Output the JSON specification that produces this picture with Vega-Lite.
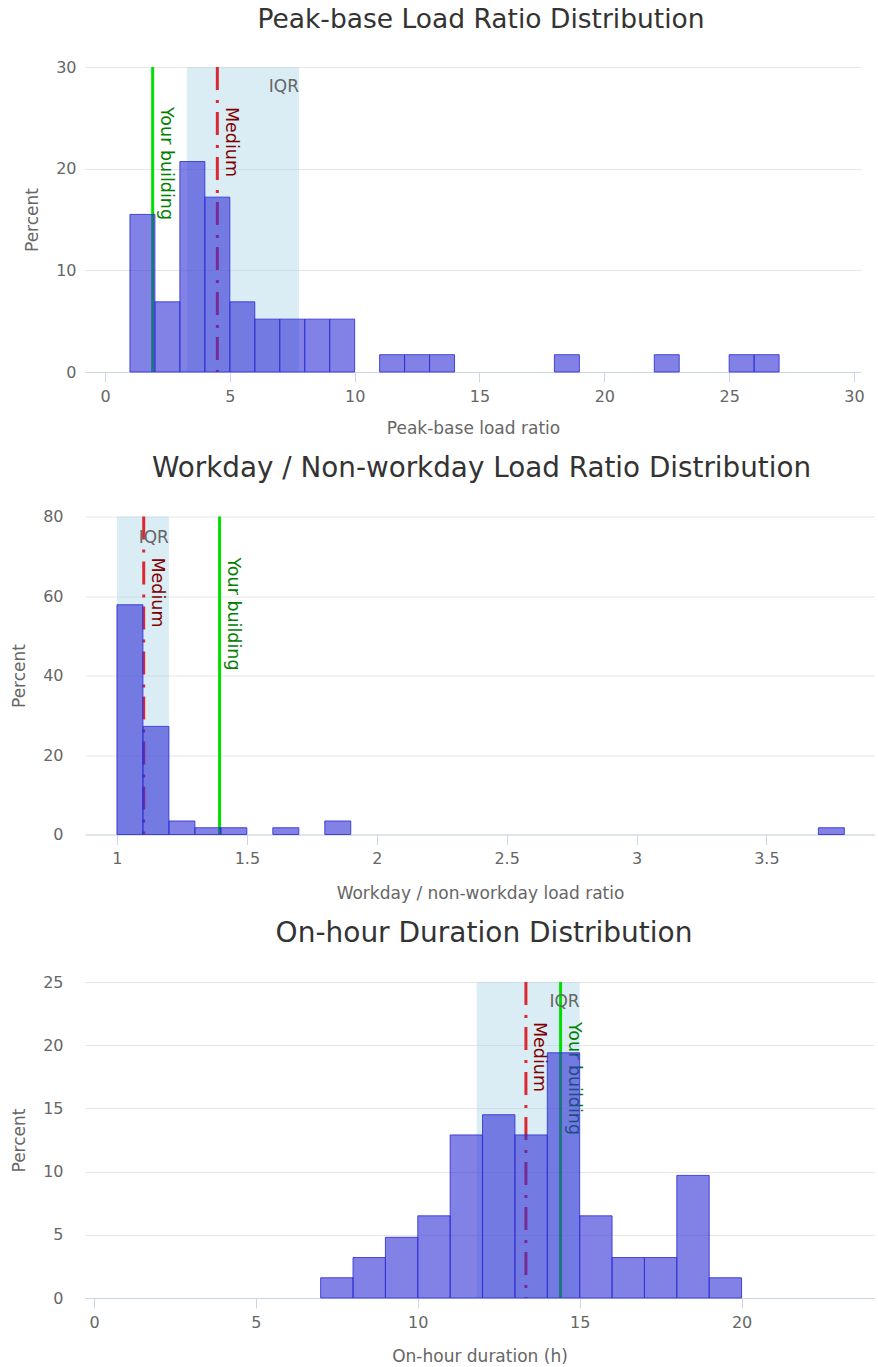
{
  "$schema": "https://vega.github.io/schema/vega-lite/v6.json",
  "padding": {"left": 10, "top": 6, "right": 0, "bottom": 0},
  "background": "white",
  "spacing": 18.5,
  "config": {
    "font": "DejaVu Sans",
    "view": {"stroke": null},
    "axis": {
      "labelFont": "DejaVu Sans",
      "titleFont": "DejaVu Sans",
      "labelFontSize": 16,
      "titleFontSize": 17,
      "labelColor": "#666666",
      "titleColor": "#666666",
      "titleFontWeight": "normal"
    },
    "axisX": {
      "grid": false,
      "domainColor": "#ccd6eb",
      "domainWidth": 1,
      "tickColor": "#ccd6eb",
      "tickSize": 10,
      "labelPadding": 6,
      "labelFlush": false
    },
    "axisY": {
      "domain": false,
      "ticks": false,
      "grid": true,
      "gridColor": "#e6e6e6",
      "gridWidth": 1,
      "labelPadding": 22
    },
    "title": {"font": "DejaVu Sans", "fontWeight": "normal", "color": "#333333", "anchor": "middle", "frame": "group"}
  },
  "datasets": {
    "bars1": [
      {"start": 1, "end": 2, "pct": 15.5},
      {"start": 2, "end": 3, "pct": 6.9},
      {"start": 3, "end": 4, "pct": 20.7},
      {"start": 4, "end": 5, "pct": 17.2},
      {"start": 5, "end": 6, "pct": 6.9},
      {"start": 6, "end": 7, "pct": 5.2},
      {"start": 7, "end": 8, "pct": 5.2},
      {"start": 8, "end": 9, "pct": 5.2},
      {"start": 9, "end": 10, "pct": 5.2},
      {"start": 11, "end": 12, "pct": 1.7},
      {"start": 12, "end": 13, "pct": 1.7},
      {"start": 13, "end": 14, "pct": 1.7},
      {"start": 18, "end": 19, "pct": 1.7},
      {"start": 22, "end": 23, "pct": 1.7},
      {"start": 25, "end": 26, "pct": 1.7},
      {"start": 26, "end": 27, "pct": 1.7}
    ],
    "stats1": [{"q1": 3.28, "q3": 7.77, "median": 4.5, "yours": 1.91}],
    "bars2": [
      {"start": 1.0, "end": 1.1, "pct": 57.8},
      {"start": 1.1, "end": 1.2, "pct": 27.2},
      {"start": 1.2, "end": 1.3, "pct": 3.4},
      {"start": 1.3, "end": 1.4, "pct": 1.7},
      {"start": 1.4, "end": 1.5, "pct": 1.7},
      {"start": 1.6, "end": 1.7, "pct": 1.7},
      {"start": 1.8, "end": 1.9, "pct": 3.4},
      {"start": 3.7, "end": 3.8, "pct": 1.7}
    ],
    "stats2": [{"q1": 1.0, "q3": 1.2, "median": 1.103, "yours": 1.395}],
    "bars3": [
      {"start": 7, "end": 8, "pct": 1.6},
      {"start": 8, "end": 9, "pct": 3.2},
      {"start": 9, "end": 10, "pct": 4.8},
      {"start": 10, "end": 11, "pct": 6.5},
      {"start": 11, "end": 12, "pct": 12.9},
      {"start": 12, "end": 13, "pct": 14.5},
      {"start": 13, "end": 14, "pct": 12.9},
      {"start": 14, "end": 15, "pct": 19.4},
      {"start": 15, "end": 16, "pct": 6.5},
      {"start": 16, "end": 17, "pct": 3.2},
      {"start": 17, "end": 18, "pct": 3.2},
      {"start": 18, "end": 19, "pct": 9.7},
      {"start": 19, "end": 20, "pct": 1.6}
    ],
    "stats3": [{"q1": 11.82, "q3": 15.0, "median": 13.34, "yours": 14.41}]
  },
  "vconcat": [
    {
      "title": {"text": "Peak-base Load Ratio Distribution", "fontSize": 26.5, "offset": 26, "dx": 8},
      "width": 776,
      "height": 305,
      "layer": [
        {
          "data": {"name": "stats1"},
          "mark": {"type": "rect", "color": "#add8e6", "opacity": 0.45},
          "encoding": {
            "x": {"field": "q1", "type": "quantitative"},
            "x2": {"field": "q3"}
          }
        },
        {
          "data": {"name": "stats1"},
          "mark": {"type": "rule", "color": "#dc2832", "strokeWidth": 3, "strokeDash": [23, 10, 3, 9]},
          "encoding": {"x": {"field": "median", "type": "quantitative"}}
        },
        {
          "data": {"name": "stats1"},
          "mark": {"type": "rule", "color": "#00e000", "strokeWidth": 3},
          "encoding": {"x": {"field": "yours", "type": "quantitative"}}
        },
        {
          "data": {"name": "stats1"},
          "mark": {"type": "text", "text": "Medium", "color": "#800000", "fontSize": 17.5, "angle": 90, "align": "left", "baseline": "alphabetic", "dx": 40, "dy": -8.5},
          "encoding": {
            "x": {"field": "median", "type": "quantitative"},
            "y": {"datum": 30, "type": "quantitative"}
          }
        },
        {
          "data": {"name": "stats1"},
          "mark": {"type": "text", "text": "Your building", "color": "#008000", "fontSize": 17.5, "angle": 90, "align": "left", "baseline": "alphabetic", "dx": 40, "dy": -8.5},
          "encoding": {
            "x": {"field": "yours", "type": "quantitative"},
            "y": {"datum": 30, "type": "quantitative"}
          }
        },
        {
          "data": {"name": "stats1"},
          "mark": {"type": "text", "text": "IQR", "color": "#666666", "fontSize": 17, "align": "right", "baseline": "alphabetic", "dy": 25},
          "encoding": {
            "x": {"field": "q3", "type": "quantitative"},
            "y": {"datum": 30, "type": "quantitative"}
          }
        },
        {
          "data": {"name": "bars1"},
          "mark": {"type": "rect", "fill": "#2f2fd5", "fillOpacity": 0.6, "stroke": "#2f2fd5", "strokeOpacity": 0.85, "strokeWidth": 1},
          "encoding": {
            "x": {"field": "start", "type": "quantitative", "scale": {"domain": [-0.8, 30.28], "nice": false, "zero": false},
                  "axis": {"title": "Peak-base load ratio", "values": [0, 5, 10, 15, 20, 25, 30], "format": "~g", "grid": false, "titlePadding": 16}},
            "x2": {"field": "end"},
            "y": {"field": "pct", "type": "quantitative", "scale": {"domain": [0, 30], "nice": false},
                  "axis": {"title": "Percent", "values": [0, 10, 20, 30], "grid": true, "labelPadding": 9, "titlePadding": 14}},
            "y2": {"datum": 0}
          }
        }
      ]
    },
    {
      "title": {"text": "Workday / Non-workday Load Ratio Distribution", "fontSize": 27.8, "offset": 26, "dx": 1.5},
      "width": 790,
      "height": 318,
      "layer": [
        {
          "data": {"name": "stats2"},
          "mark": {"type": "rect", "color": "#add8e6", "opacity": 0.45},
          "encoding": {
            "x": {"field": "q1", "type": "quantitative"},
            "x2": {"field": "q3"}
          }
        },
        {
          "data": {"name": "stats2"},
          "mark": {"type": "rule", "color": "#dc2832", "strokeWidth": 3, "strokeDash": [23, 10, 3, 9]},
          "encoding": {"x": {"field": "median", "type": "quantitative"}}
        },
        {
          "data": {"name": "stats2"},
          "mark": {"type": "rule", "color": "#00e000", "strokeWidth": 3},
          "encoding": {"x": {"field": "yours", "type": "quantitative"}}
        },
        {
          "data": {"name": "stats2"},
          "mark": {"type": "text", "text": "Medium", "color": "#800000", "fontSize": 17.5, "angle": 90, "align": "left", "baseline": "alphabetic", "dx": 41, "dy": -8.5},
          "encoding": {
            "x": {"field": "median", "type": "quantitative"},
            "y": {"datum": 80, "type": "quantitative"}
          }
        },
        {
          "data": {"name": "stats2"},
          "mark": {"type": "text", "text": "Your building", "color": "#008000", "fontSize": 17.5, "angle": 90, "align": "left", "baseline": "alphabetic", "dx": 41, "dy": -8.5},
          "encoding": {
            "x": {"field": "yours", "type": "quantitative"},
            "y": {"datum": 80, "type": "quantitative"}
          }
        },
        {
          "data": {"name": "stats2"},
          "mark": {"type": "text", "text": "IQR", "color": "#666666", "fontSize": 17, "align": "right", "baseline": "alphabetic", "dy": 26},
          "encoding": {
            "x": {"field": "q3", "type": "quantitative"},
            "y": {"datum": 80, "type": "quantitative"}
          }
        },
        {
          "data": {"name": "bars2"},
          "mark": {"type": "rect", "fill": "#2f2fd5", "fillOpacity": 0.6, "stroke": "#2f2fd5", "strokeOpacity": 0.85, "strokeWidth": 1},
          "encoding": {
            "x": {"field": "start", "type": "quantitative", "scale": {"domain": [0.877, 3.918], "nice": false, "zero": false},
                  "axis": {"title": "Workday / non-workday load ratio", "values": [1, 1.5, 2, 2.5, 3, 3.5], "format": "~g", "grid": false, "titlePadding": 19}},
            "x2": {"field": "end"},
            "y": {"field": "pct", "type": "quantitative", "scale": {"domain": [0, 80], "nice": false},
                  "axis": {"title": "Percent", "values": [0, 20, 40, 60, 80], "grid": true, "titlePadding": 14}},
            "y2": {"datum": 0}
          }
        }
      ]
    },
    {
      "title": {"text": "On-hour Duration Distribution", "fontSize": 28, "offset": 26, "dx": 4.5},
      "width": 789,
      "height": 316,
      "layer": [
        {
          "data": {"name": "stats3"},
          "mark": {"type": "rect", "color": "#add8e6", "opacity": 0.45},
          "encoding": {
            "x": {"field": "q1", "type": "quantitative"},
            "x2": {"field": "q3"}
          }
        },
        {
          "data": {"name": "stats3"},
          "mark": {"type": "rule", "color": "#dc2832", "strokeWidth": 3, "strokeDash": [23, 10, 3, 9]},
          "encoding": {"x": {"field": "median", "type": "quantitative"}}
        },
        {
          "data": {"name": "stats3"},
          "mark": {"type": "rule", "color": "#00e000", "strokeWidth": 3},
          "encoding": {"x": {"field": "yours", "type": "quantitative"}}
        },
        {
          "data": {"name": "stats3"},
          "mark": {"type": "text", "text": "Medium", "color": "#800000", "fontSize": 17.5, "angle": 90, "align": "left", "baseline": "alphabetic", "dx": 40, "dy": -8.5},
          "encoding": {
            "x": {"field": "median", "type": "quantitative"},
            "y": {"datum": 25, "type": "quantitative"}
          }
        },
        {
          "data": {"name": "stats3"},
          "mark": {"type": "text", "text": "Your building", "color": "#008000", "fontSize": 17.5, "angle": 90, "align": "left", "baseline": "alphabetic", "dx": 40, "dy": -8.5},
          "encoding": {
            "x": {"field": "yours", "type": "quantitative"},
            "y": {"datum": 25, "type": "quantitative"}
          }
        },
        {
          "data": {"name": "stats3"},
          "mark": {"type": "text", "text": "IQR", "color": "#666666", "fontSize": 17, "align": "right", "baseline": "alphabetic", "dy": 25},
          "encoding": {
            "x": {"field": "q3", "type": "quantitative"},
            "y": {"datum": 25, "type": "quantitative"}
          }
        },
        {
          "data": {"name": "bars3"},
          "mark": {"type": "rect", "fill": "#2f2fd5", "fillOpacity": 0.6, "stroke": "#2f2fd5", "strokeOpacity": 0.85, "strokeWidth": 1},
          "encoding": {
            "x": {"field": "start", "type": "quantitative", "scale": {"domain": [-0.278, 24.09], "nice": false, "zero": false},
                  "axis": {"title": "On-hour duration (h)", "values": [0, 5, 10, 15, 20], "format": "~g", "grid": false, "titlePadding": 18.5}},
            "x2": {"field": "end"},
            "y": {"field": "pct", "type": "quantitative", "scale": {"domain": [0, 25], "nice": false},
                  "axis": {"title": "Percent", "values": [0, 5, 10, 15, 20, 25], "grid": true, "titlePadding": 14}},
            "y2": {"datum": 0}
          }
        }
      ]
    }
  ]
}
